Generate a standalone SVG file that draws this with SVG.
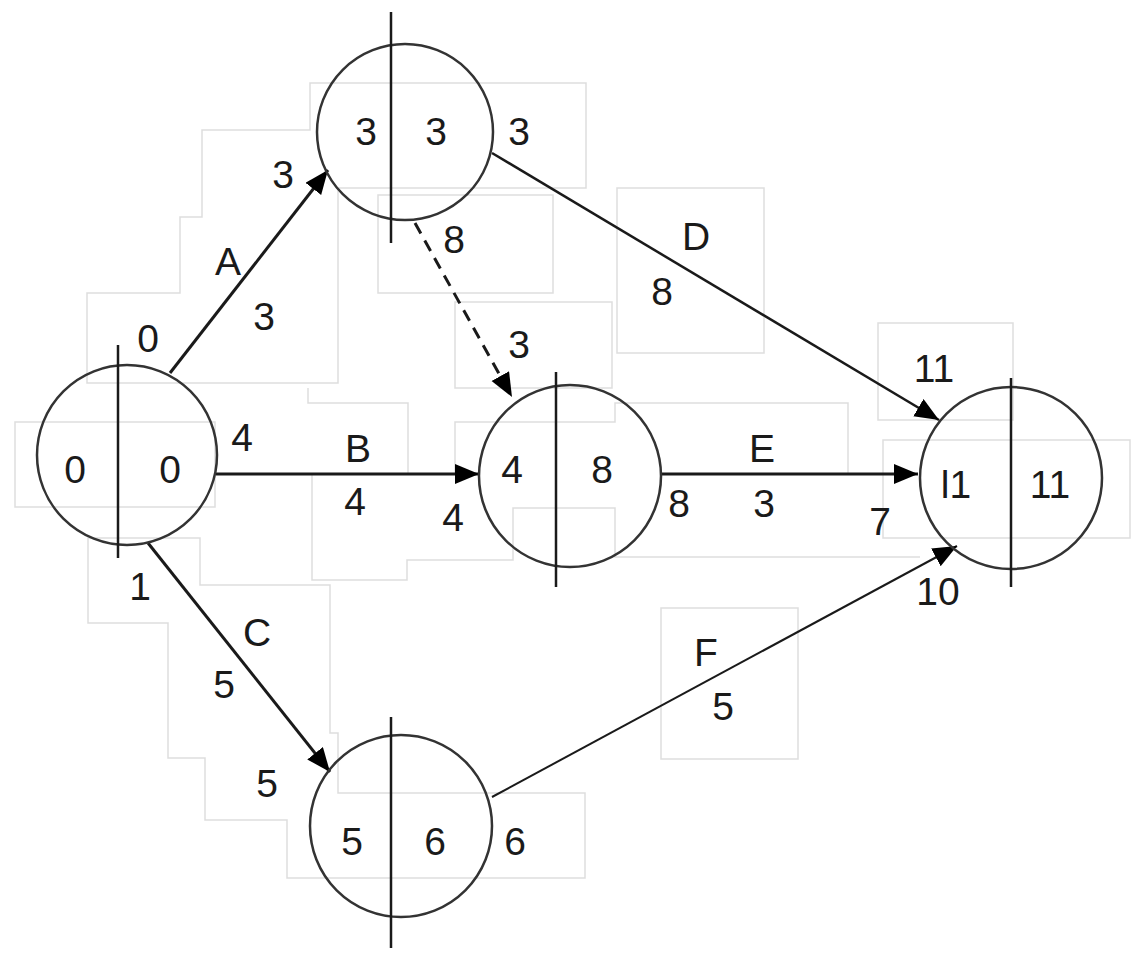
<svg xmlns="http://www.w3.org/2000/svg" width="1148" height="956" viewBox="0 0 1148 956">
<style>
.bg{fill:#ffffff}
.box{fill:none;stroke:#dedede;stroke-width:1.5}
.circ{fill:none;stroke:#333333;stroke-width:2.5}
.div{stroke:#1a1a1a;stroke-width:2.5}
.t{font-family:"Liberation Sans",Arial,sans-serif;font-size:39px;fill:#1a1a1a;text-anchor:middle}
.e{fill:none;stroke:#1a1a1a}
</style>
<defs>
<marker id="ah" markerUnits="userSpaceOnUse" markerWidth="26" markerHeight="22" refX="24" refY="10" orient="auto">
<path d="M0,0 L24,10 L0,20 z" fill="#000"/>
</marker>
</defs>
<rect class="bg" x="0" y="0" width="1148" height="956"/>
<g id="guides">
<polygon class="box" points="310,83 586,83 586,188 338,188 338,383 87,383 87,293 180,293 180,217 202,217 202,130 310,130"/>
<rect class="box" x="378" y="195" width="175" height="98"/>
<rect class="box" x="455" y="302" width="157" height="86"/>
<rect class="box" x="617" y="188" width="147" height="165"/>
<rect class="box" x="878" y="323" width="135" height="97"/>
<rect class="box" x="883" y="440" width="247" height="98"/>
<rect class="box" x="15" y="422" width="200" height="85"/>
<polygon class="box" points="88,538 200,538 200,585 330,585 330,733 338,733 338,793 585,793 585,878 287,878 287,820 205,820 205,758 168,758 168,623 88,623"/>
<rect class="box" x="661" y="608" width="137" height="151"/>
<polyline class="box" points="308,388 308,403 408,403 408,474"/>
<polyline class="box" points="312,474 312,580 407,580 407,560 513,560 513,508 615,508 615,557 920,557"/>
<polyline class="box" points="455,474 455,422 615,422 615,403 848,403 848,474"/>
</g>
<g id="connectors">
<line id="A" class="e" x1="170" y1="373" x2="328" y2="170" stroke-width="3" marker-end="url(#ah)"/>
<line id="B" class="e" x1="216" y1="474" x2="479" y2="474" stroke-width="3" marker-end="url(#ah)"/>
<line id="C" class="e" x1="148" y1="543" x2="330" y2="772" stroke-width="3" marker-end="url(#ah)"/>
<line id="D" class="e" x1="492" y1="153" x2="939" y2="420" stroke-width="2.5" marker-end="url(#ah)"/>
<line id="E" class="e" x1="662" y1="474" x2="918" y2="474" stroke-width="3" marker-end="url(#ah)"/>
<line id="F" class="e" x1="492" y1="797" x2="957" y2="546" stroke-width="2" marker-end="url(#ah)"/>
<line id="dummy" class="e" x1="415" y1="223" x2="512" y2="397" stroke-width="3" stroke-dasharray="12,8" marker-end="url(#ah)"/>
</g>
<g id="node1">
<circle class="circ" cx="127" cy="455" r="90"/>
<line class="div" x1="118" y1="345" x2="118" y2="558"/>
<text class="t" x="75" y="483">0</text>
<text class="t" x="170" y="483">0</text>
</g>
<g id="node2">
<circle class="circ" cx="405" cy="132" r="88"/>
<line class="div" x1="391" y1="12" x2="391" y2="243"/>
<text class="t" x="366" y="145">3</text>
<text class="t" x="436" y="145">3</text>
</g>
<g id="node3">
<circle class="circ" cx="570" cy="476" r="91"/>
<line class="div" x1="556" y1="372" x2="556" y2="587"/>
<text class="t" x="512" y="483">4</text>
<text class="t" x="602" y="483">8</text>
</g>
<g id="node4">
<circle class="circ" cx="1011" cy="478" r="91"/>
<line class="div" x1="1011" y1="378" x2="1011" y2="587"/>
<text class="t" x="956" y="498">l1</text>
<text class="t" x="1050" y="498">11</text>
</g>
<g id="node5">
<circle class="circ" cx="401" cy="826" r="91"/>
<line class="div" x1="391" y1="717" x2="391" y2="948"/>
<text class="t" x="352" y="855">5</text>
<text class="t" x="435" y="855">6</text>
</g>
<g id="labels">
<text class="t" x="148" y="352">0</text>
<text class="t" x="228" y="275">A</text>
<text class="t" x="264" y="330">3</text>
<text class="t" x="283" y="188">3</text>
<text class="t" x="519" y="145">3</text>
<text class="t" x="454" y="253">8</text>
<text class="t" x="519" y="358">3</text>
<text class="t" x="242" y="451">4</text>
<text class="t" x="358" y="462">B</text>
<text class="t" x="355" y="515">4</text>
<text class="t" x="453" y="531">4</text>
<text class="t" x="140" y="600">1</text>
<text class="t" x="257" y="646">C</text>
<text class="t" x="224" y="698">5</text>
<text class="t" x="267" y="797">5</text>
<text class="t" x="515" y="855">6</text>
<text class="t" x="696" y="250">D</text>
<text class="t" x="662" y="305">8</text>
<text class="t" x="934" y="382">11</text>
<text class="t" x="762" y="462">E</text>
<text class="t" x="764" y="517">3</text>
<text class="t" x="679" y="517">8</text>
<text class="t" x="880" y="535">7</text>
<text class="t" x="706" y="666">F</text>
<text class="t" x="723" y="720">5</text>
<text class="t" x="938" y="605">10</text>
</g>
</svg>
